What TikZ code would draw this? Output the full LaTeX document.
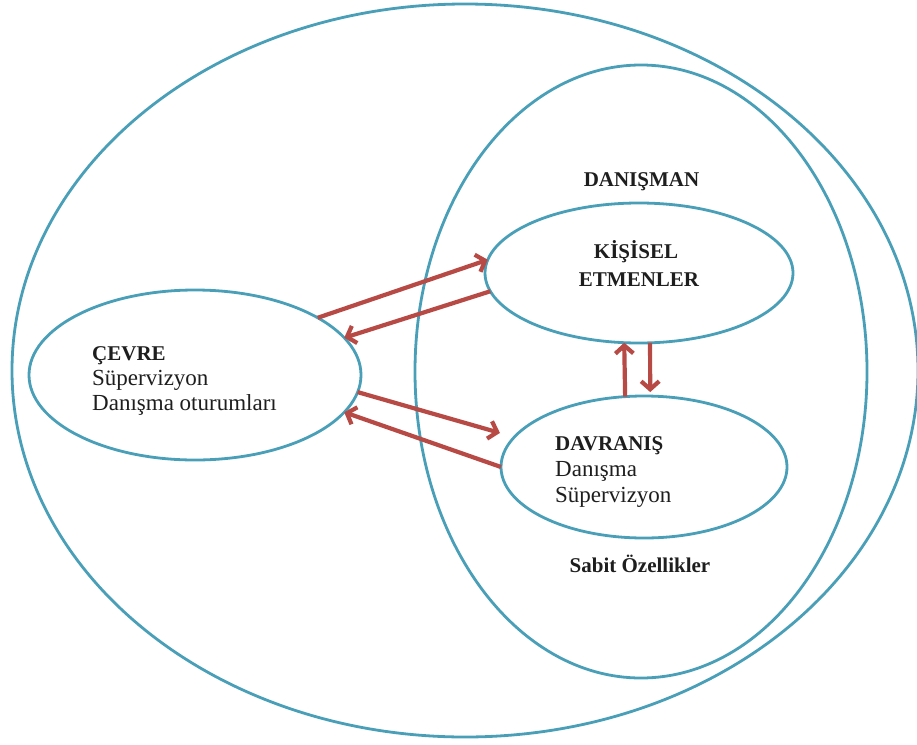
\documentclass[tikz,border=0pt]{standalone}
\usepackage{fontspec}
\setmainfont{Liberation Serif}
\usetikzlibrary{shapes.geometric,arrows.meta}
\definecolor{ringblue}{HTML}{4A9FB8}
\definecolor{arrowred}{HTML}{B84A46}
\definecolor{txt}{HTML}{1E1E1E}
\begin{document}
\begin{tikzpicture}[x=1pt,y=-1pt,
  ring/.style={ellipse, draw=ringblue, line width=2.8pt, inner sep=0pt, outer sep=0pt},
  rel/.style={draw=arrowred, line width=4.2pt, -{Straight Barb[length=8pt,width=18pt]}},
  boldtxt/.style={font=\fontsize{21}{25}\selectfont\bfseries, text=txt, inner sep=0pt},
  regtxt/.style={font=\fontsize{23}{27}\selectfont, text=txt, inner sep=0pt}]
\useasboundingbox (0,0) rectangle (917,744);
\clip (0,0) rectangle (917,744);
\fill[white] (0,0) rectangle (917,744);
% ellipses
\node[ring, minimum width=906pt, minimum height=733pt] (outer) at (465,370.5) {};
\node[ring, minimum width=452pt, minimum height=613pt] (danismanring) at (641,371.5) {};
\node[ring, minimum width=332pt, minimum height=170pt] (cevre) at (195,375) {};
\node[ring, minimum width=308pt, minimum height=140pt] (kisisel) at (639,273) {};
\node[ring, minimum width=286pt, minimum height=142pt] (davranis) at (644,467) {};
% arrows
\draw[rel] (cevre.25) -- (kisisel.175);
\draw[rel] (kisisel.187) -- (cevre.14);
\draw[rel, shorten >=15pt] (cevre.-6) -- (davranis.167);
\draw[rel] (davranis.180) -- (cevre.-14);
\draw[rel] (davranis.105) -- (kisisel.258.6);
\draw[rel, shorten >=4pt] (kisisel.279) -- (davranis.85);
% texts
\node[boldtxt, anchor=base] (danisman) at (641.5,186) {DANIŞMAN};
\node[boldtxt, anchor=base] (kis1) at (636,258) {KİŞİSEL};
\node[boldtxt, anchor=base] (kis2) at (639,286) {ETMENLER};
\node[boldtxt, anchor=base west] (cev1) at (92,360) {ÇEVRE};
\node[regtxt, anchor=base west] (cev2) at (92,385) {Süpervizyon};
\node[regtxt, anchor=base west] (cev3) at (92,410) {Danışma oturumları};
\node[boldtxt, anchor=base west] (dav1) at (555,450) {DAVRANIŞ};
\node[regtxt, anchor=base west] (dav2) at (555,476) {Danışma};
\node[regtxt, anchor=base west] (dav3) at (555,502) {Süpervizyon};
\node[boldtxt, anchor=base] (sabit) at (640,572) {Sabit Özellikler};
\end{tikzpicture}
\end{document}
